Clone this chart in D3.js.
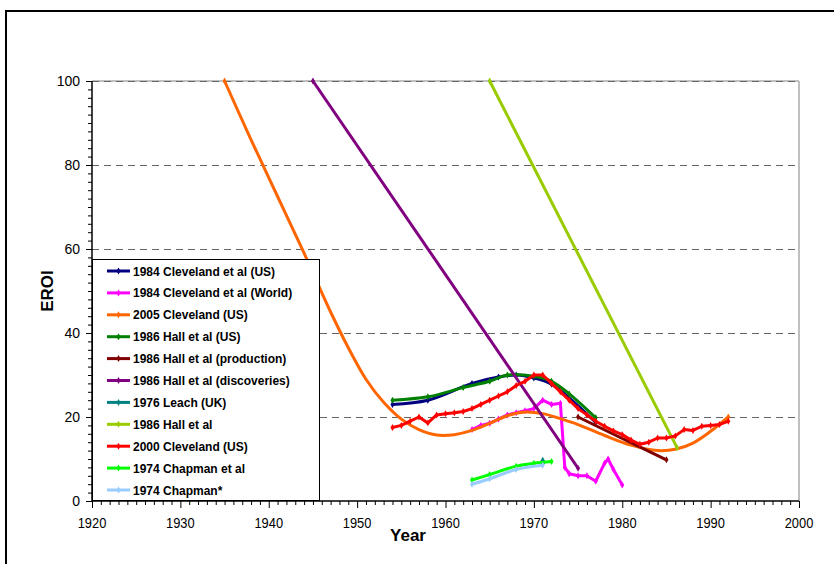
<!DOCTYPE html>
<html>
<head>
<meta charset="utf-8">
<script src="https://cdn.jsdelivr.net/npm/d3@7"></script>
<style>
  body { margin: 0; background: #fff; }
  svg { display: block; font-family: "Liberation Sans", Arial, sans-serif; }
</style>
</head>
<body>
<div id="chart"></div>
<script>
// [year, EROI] pairs
const cleveland84US = [[1954, 23], [1958, 24], [1963, 28], [1966, 29.5], [1968, 30], [1970, 29.3], [1972, 27.8], [1977, 18.7]]
const cleveland84World = [[1963, 17], [1964, 18], [1965, 18.5], [1966, 19.5], [1967, 20.5], [1968, 21], [1969, 21.5], [1970, 22],
  [1971, 24], [1972, 23], [1973, 23.3], [1973.5, 8], [1974, 6.5], [1975, 6], [1976, 6], [1977, 4.7], [1978, 9], [1978.4, 10],
  [1979, 7.5], [1980, 3.8]]
const cleveland05US = [[1935, 100], [1938, 86], [1941, 72.5], [1944, 59], [1947, 45], [1949, 36.5], [1951, 29], [1953, 23.5],
  [1955, 19.5], [1957, 17], [1959, 15.7], [1961, 15.8], [1963, 16.8], [1965, 18.5], [1967, 20.3], [1969, 21.2], [1971, 20.8],
  [1973, 19.6], [1975, 18.2], [1978, 15.6], [1981, 13.3], [1984, 12], [1986, 12.3], [1988, 13.8], [1990, 16.6], [1992, 20]]
const hall86US = [[1954, 24], [1958, 24.8], [1962, 27], [1965, 28.5], [1967, 30], [1970, 29.7], [1972, 28.5], [1974, 25.5], [1977, 19.8]]
const hall86Production = [[1975, 20], [1985, 9.8]]
const hall86Discoveries = [[1945, 100], [1975, 7.8]]
const leach76UK = [[1971, 9.3]]
const hall86 = [[1965, 100], [1986.2, 12.7]]
const cleveland00US = [[1954, 17.5], [1955, 18], [1956, 19], [1957, 20], [1958, 18.6], [1959, 20.5], [1960, 20.8], [1961, 21],
  [1962, 21.3], [1963, 22], [1964, 23], [1965, 24], [1966, 25], [1967, 26], [1968, 27.5], [1969, 28.5], [1970, 30], [1971, 30],
  [1972, 28], [1973, 26], [1974, 24], [1975, 22], [1976, 20.5], [1977, 19], [1978, 17.8], [1979, 16.7], [1980, 15.8],
  [1981, 14.5], [1982, 13.5], [1983, 14], [1984, 15], [1985, 15], [1986, 15.5], [1987, 17], [1988, 16.8], [1989, 17.8],
  [1990, 18], [1991, 18.2], [1992, 19]]
const chapman74Etal = [[1963, 5], [1965, 6.3], [1968, 8.3], [1970, 9], [1972, 9.4]]
const chapman74Star = [[1963, 4], [1965, 5.3], [1968, 7.5], [1971, 8.5]]

const seriesNames = ['1984 Cleveland et al (US)', '1984 Cleveland et al (World)', '2005 Cleveland (US)', '1986 Hall et al (US)',
  '1986 Hall et al (production)', '1986 Hall et al (discoveries)', '1976 Leach (UK)', '1986 Hall et al', '2000 Cleveland (US)',
  '1974 Chapman et al', '1974 Chapman*']
const seriesData = [cleveland84US, cleveland84World, cleveland05US, hall86US, hall86Production, hall86Discoveries,
  leach76UK, hall86, cleveland00US, chapman74Etal, chapman74Star]
const seriesColors = ['#000080', '#ff00ff', '#ff6600', '#008000', '#800000', '#800080', '#008080', '#99cc00', '#ff0000', '#00ff00', '#99ccff']
const seriesSmooth = [true, false, true, true, false, false, false, false, false, true, true]

const yTicks = [0, 20, 40, 60, 80, 100]
const xTicks = [1920, 1930, 1940, 1950, 1960, 1970, 1980, 1990, 2000]

const W = 834, H = 564
const svg = d3.select('#chart').append('svg').attr('width', W).attr('height', H)

// outer frame (runs off the right and bottom edges)
svg.append('rect').attr('x', 6).attr('y', 11).attr('width', 900).attr('height', 700)
  .attr('fill', 'none').attr('stroke', '#000').attr('stroke-width', 2)

const x = d3.scaleLinear().domain([1920, 2000]).range([92, 799])
const y = d3.scaleLinear().domain([0, 100]).range([501, 81])

// plot area border
svg.append('line').attr('x1', x(2000)).attr('x2', x(2000)).attr('y1', y(0)).attr('y2', y(100))
  .attr('stroke', '#808080').attr('stroke-width', 1)
svg.append('line').attr('x1', x(1920)).attr('x2', x(2000)).attr('y1', y(100)).attr('y2', y(100))
  .attr('stroke', '#c0c0c0').attr('stroke-width', 2)

// dashed gridlines
svg.append('g').selectAll('line').data(yTicks.filter(d => d > 0)).enter().append('line')
  .attr('x1', x(1920)).attr('x2', x(2000))
  .attr('y1', d => Math.round(y(d)) + 0.5).attr('y2', d => Math.round(y(d)) + 0.5)
  .attr('stroke', '#666').attr('stroke-width', 1).attr('stroke-dasharray', '7,5')

// y axis: minor ticks every 2
const yAxis = svg.append('g').attr('transform', `translate(${x(1920)},0)`)
yAxis.call(d3.axisLeft(y).tickValues(d3.range(0, 101, 2)).tickSize(4).tickFormat(''))
yAxis.call(g => g.selectAll('.tick').filter(d => d % 20 === 0).select('line').attr('x2', -6))
yAxis.select('.domain').remove()
yAxis.append('line').attr('y1', y(0)).attr('y2', y(100)).attr('stroke', '#000').attr('stroke-width', 1.5)
yAxis.selectAll('.tick line').attr('stroke', '#000')
svg.append('g').selectAll('text').data(yTicks).enter().append('text')
  .attr('x', 80).attr('y', d => y(d) + 5).attr('text-anchor', 'end')
  .attr('font-size', 14).text(d => d)

// x axis: minor ticks every year
const xAxis = svg.append('g').attr('transform', `translate(0,${y(0)})`)
xAxis.call(d3.axisBottom(x).tickValues(d3.range(1920, 2001, 1)).tickSize(4).tickFormat(''))
xAxis.call(g => g.selectAll('.tick').filter(d => d % 10 === 0).select('line').attr('y2', 7))
xAxis.select('.domain').remove()
xAxis.append('line').attr('x1', x(1920)).attr('x2', x(2000)).attr('stroke', '#000').attr('stroke-width', 1.5)
xAxis.selectAll('.tick line').attr('stroke', '#000')
svg.append('g').selectAll('text').data(xTicks).enter().append('text')
  .attr('x', d => x(d)).attr('y', 528).attr('text-anchor', 'middle')
  .attr('font-size', 14).attr('transform', d => `translate(${x(d)},0) scale(0.92,1) translate(${-x(d)},0)`)
  .text(d => d)

svg.append('text').attr('x', 408).attr('y', 541).attr('text-anchor', 'middle')
  .attr('font-size', 17).attr('font-weight', 'bold').text('Year')
svg.append('text').attr('transform', 'translate(53,291) rotate(-90)').attr('text-anchor', 'middle')
  .attr('font-size', 17).attr('font-weight', 'bold').text('EROI')

// series
const marker = d3.symbol().type(d3.symbolDiamond).size(14)
seriesData.forEach((data, i) => {
  const line = d3.line().x(d => x(d[0])).y(d => y(d[1]))
    .curve(seriesSmooth[i] ? d3.curveCatmullRom.alpha(0.5) : d3.curveLinear)
  const g = svg.append('g')
  if (data.length > 1) {
    g.append('path').datum(data).attr('d', line).attr('fill', 'none')
      .attr('stroke', seriesColors[i]).attr('stroke-width', 3).attr('stroke-linejoin', 'round')
  }
  const pts = seriesSmooth[i] && i === 2 ? [data[0], data[data.length - 1]] : data
  g.selectAll('path.m').data(pts).enter().append('path').attr('class', 'm')
    .attr('d', data.length > 1 ? marker : d3.symbol().type(d3.symbolDiamond).size(30))
    .attr('transform', d => `translate(${x(d[0])},${y(d[1])})`)
    .attr('fill', seriesColors[i])
})

// legend
const legend = svg.append('g')
legend.append('rect').attr('x', 92.5).attr('y', 259.5).attr('width', 227).attr('height', 241)
  .attr('fill', '#fff').attr('stroke', '#000').attr('stroke-width', 1)
seriesNames.forEach((name, i) => {
  const ly = 271 + i * 21.9
  legend.append('line').attr('x1', 107).attr('x2', 130).attr('y1', ly).attr('y2', ly)
    .attr('stroke', seriesColors[i]).attr('stroke-width', 3)
  legend.append('path').attr('d', marker).attr('transform', `translate(118.5,${ly})`).attr('fill', seriesColors[i])
  legend.append('text').attr('x', 133).attr('y', ly + 4.5).attr('font-size', 12).attr('font-weight', 'bold')
    .text(name)
})
</script>
</body>
</html>
